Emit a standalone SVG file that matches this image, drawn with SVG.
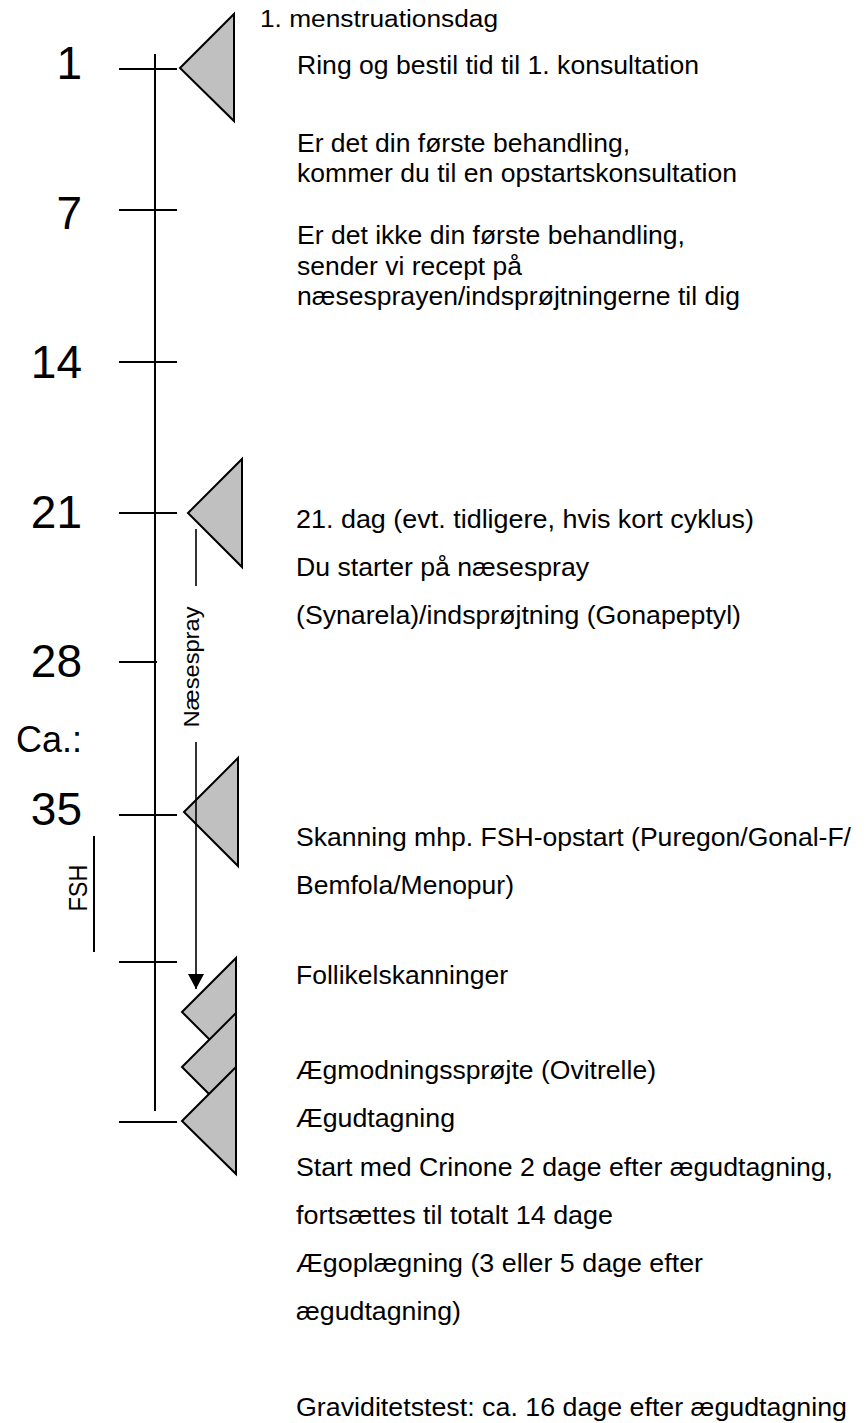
<svg xmlns="http://www.w3.org/2000/svg" width="866" height="1423" viewBox="0 0 866 1423">
<style>
text{font-family:"Liberation Sans",Arial,Helvetica,sans-serif;fill:#000}
.num{font-size:46px;text-anchor:end}
.t1{font-size:26.5px}
.t2{font-size:25px}
.ln{stroke:#000;stroke-width:2;fill:none}
.thin{stroke:#000;stroke-width:1.6;fill:none}
.tri{fill:#c0c0c0;stroke:#000;stroke-width:2;stroke-linejoin:miter}
</style>
<defs>
<marker id="ah" markerUnits="userSpaceOnUse" markerWidth="16" markerHeight="16" viewBox="0 0 16 16" refX="15" refY="8" orient="auto">
<path d="M0,0 L15,8 L0,16 z" fill="#000"/>
</marker>
</defs>
<rect width="866" height="1423" fill="#fff"/>
<g id="connectors">
<line class="ln" x1="155" y1="54" x2="155" y2="1111"/>
<line class="ln" x1="119" y1="69" x2="177" y2="69"/>
<line class="ln" x1="119" y1="210" x2="177" y2="210"/>
<line class="ln" x1="119" y1="362" x2="177" y2="362"/>
<line class="ln" x1="119" y1="513" x2="177" y2="513"/>
<line class="ln" x1="119" y1="662" x2="157" y2="662"/>
<line class="ln" x1="119" y1="815" x2="177" y2="815"/>
<line class="ln" x1="119" y1="962" x2="177" y2="962"/>
<line class="ln" x1="119" y1="1122" x2="177" y2="1122"/>
<line class="ln" x1="94" y1="836" x2="94" y2="952"/>
</g>
<g id="labels-left">
<text class="num" x="82" y="79">1</text>
<text class="num" x="82" y="229">7</text>
<text class="num" x="82" y="378">14</text>
<text class="num" x="82" y="528">21</text>
<text class="num" x="82" y="677">28</text>
<text x="82" y="752" style="font-size:36px;text-anchor:end">Ca.:</text>
<text class="num" x="82" y="825">35</text>
<text x="0" y="0" transform="translate(87,888) rotate(-90)" style="font-size:25px;text-anchor:middle" textLength="47" lengthAdjust="spacingAndGlyphs">FSH</text>
</g>
<g id="node-day1">
<polygon class="tri" points="180,68 234,14 234,121"/>
</g>
<g id="node-day21">
<polygon class="tri" points="188,513 242,459 242,567"/>
</g>
<g id="node-day35">
<polygon class="tri" points="184,812 238,758 238,866"/>
</g>
<g id="node-follikel">
<polygon class="tri" points="182,1012 236,958 236,1066"/>
</g>
<g id="node-aegmodning">
<polygon class="tri" points="182,1067 236,1013 236,1121"/>
</g>
<g id="node-aegudtagning">
<polygon class="tri" points="182,1121 236,1067 236,1174"/>
</g>
<g id="naesespray">
<line class="thin" x1="196" y1="529" x2="196" y2="586"/>
<line class="thin" x1="196" y1="742" x2="196" y2="989" marker-end="url(#ah)"/>
<text x="0" y="0" transform="translate(199,667) rotate(-90)" style="font-size:22px;text-anchor:middle" textLength="121" lengthAdjust="spacingAndGlyphs">Næsespray</text>
</g>
<g id="texts">
<text x="260" y="27" style="font-size:23.5px" textLength="238" lengthAdjust="spacingAndGlyphs">1. menstruationsdag</text>
<text class="t1" x="297" y="74" textLength="402" lengthAdjust="spacingAndGlyphs">Ring og bestil tid til 1. konsultation</text>
<text class="t1" x="297" y="152" textLength="333" lengthAdjust="spacingAndGlyphs">Er det din første behandling,</text>
<text class="t1" x="297" y="182" textLength="440" lengthAdjust="spacingAndGlyphs">kommer du til en opstartskonsultation</text>
<text class="t1" x="297" y="244" textLength="388" lengthAdjust="spacingAndGlyphs">Er det ikke din første behandling,</text>
<text class="t1" x="297" y="275" textLength="225" lengthAdjust="spacingAndGlyphs">sender vi recept på</text>
<text class="t1" x="297" y="305" textLength="443" lengthAdjust="spacingAndGlyphs">næsesprayen/indsprøjtningerne til dig</text>
<text class="t2" x="296" y="528" textLength="458" lengthAdjust="spacingAndGlyphs">21. dag (evt. tidligere, hvis kort cyklus)</text>
<text class="t2" x="296" y="576" textLength="293" lengthAdjust="spacingAndGlyphs">Du starter på næsespray</text>
<text class="t2" x="296" y="624" textLength="445" lengthAdjust="spacingAndGlyphs">(Synarela)/indsprøjtning (Gonapeptyl)</text>
<text class="t2" x="296" y="846" textLength="555" lengthAdjust="spacingAndGlyphs">Skanning mhp. FSH-opstart (Puregon/Gonal-F/</text>
<text class="t2" x="296" y="894" textLength="218" lengthAdjust="spacingAndGlyphs">Bemfola/Menopur)</text>
<text class="t2" x="296" y="984" textLength="212" lengthAdjust="spacingAndGlyphs">Follikelskanninger</text>
<text class="t2" x="296" y="1079" textLength="360" lengthAdjust="spacingAndGlyphs">Ægmodningssprøjte (Ovitrelle)</text>
<text class="t2" x="296" y="1127" textLength="159" lengthAdjust="spacingAndGlyphs">Ægudtagning</text>
<text class="t2" x="296" y="1176" textLength="537" lengthAdjust="spacingAndGlyphs">Start med Crinone 2 dage efter ægudtagning,</text>
<text class="t2" x="296" y="1224" textLength="317" lengthAdjust="spacingAndGlyphs">fortsættes til totalt 14 dage</text>
<text class="t2" x="296" y="1272" textLength="407" lengthAdjust="spacingAndGlyphs">Ægoplægning (3 eller 5 dage efter</text>
<text class="t2" x="296" y="1320" textLength="165" lengthAdjust="spacingAndGlyphs">ægudtagning)</text>
<text class="t2" x="296" y="1416" textLength="551" lengthAdjust="spacingAndGlyphs">Graviditetstest: ca. 16 dage efter ægudtagning</text>
</g>
</svg>
